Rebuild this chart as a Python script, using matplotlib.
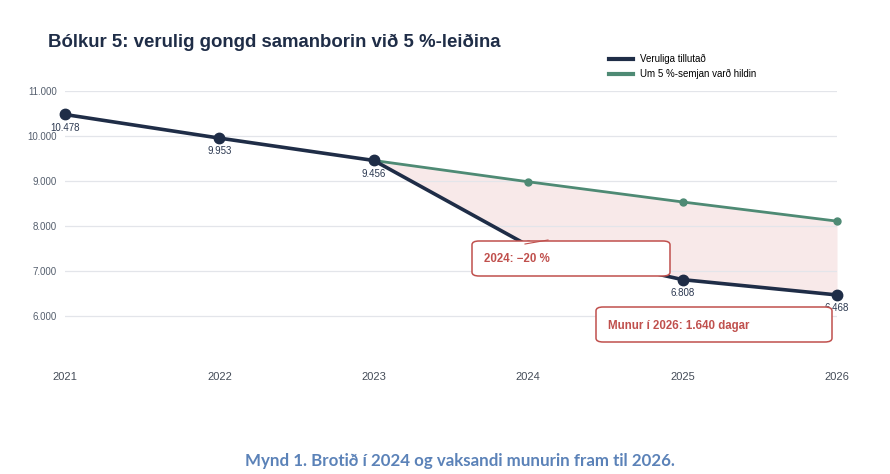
import matplotlib.pyplot as plt
from matplotlib.patches import FancyBboxPatch

plt.rcParams["font.family"] = ["Liberation Sans", "DejaVu Sans"]

years = [2021, 2022, 2023, 2024, 2025, 2026]
actual = [10478, 9953, 9456, 7565, 6808, 6468]
path_years = [2023, 2024, 2025, 2026]
path_5pct = [9456, 8983, 8534, 8108]
label_years = [2021, 2022, 2023, 2025, 2026]
yticks = [6000, 7000, 8000, 9000, 10000, 11000]

navy = "#1f2d47"
green = "#4e8a74"
red = "#c0504d"

W, H = 890, 474
fig = plt.figure(figsize=(W / 100, H / 100), dpi=100, facecolor="white")
ax = fig.add_axes([65 / W, 1 - 361 / H, (837 - 65) / W, (361 - 91) / H])

ax.set_xlim(2021, 2026)
ax.set_ylim(5000, 11000)

fill_low = [actual[years.index(y)] for y in path_years]
ax.fill_between(path_years, fill_low, path_5pct, color="#f8e9e9", zorder=1, lw=0)

ax.plot(path_years, path_5pct, color=green, lw=2, marker="o", ms=5, zorder=3,
        clip_on=False, label="Um 5 %-semjan varð hildin")
ax.plot(years, actual, color=navy, lw=2.6, marker="o", ms=7.5, zorder=4,
        clip_on=False, label="Veruliga tillutað")

for y in label_years:
    v = actual[years.index(y)]
    ax.annotate(f"{v:,}".replace(",", "."), (y, v), xytext=(0, -6),
                textcoords="offset points", ha="center", va="top",
                fontsize=7, color="#2b3850", zorder=2)

ax.set_yticks(yticks)
ax.set_yticklabels([f"{v:,}".replace(",", ".") for v in yticks])
ax.set_xticks(years)
ax.tick_params(axis="y", length=0, pad=6, labelsize=7, labelcolor="#555f6e")
ax.tick_params(axis="x", length=0, pad=8, labelsize=8, labelcolor="#444c58")
ax.grid(axis="y", color="#e3e5ea", lw=0.9)
for s in ax.spines.values():
    s.set_visible(False)

# annotation boxes (pixel coordinates of the figure)
def box(x0, y0, x1, y1, text):
    p = FancyBboxPatch((x0 / W, 1 - y1 / H), (x1 - x0) / W, (y1 - y0) / H,
                       boxstyle="round,pad=0,rounding_size=0.008",
                       transform=fig.transFigure, facecolor="white",
                       edgecolor=red, lw=1.1, zorder=10)
    fig.patches.append(p)
    fig.text((x0 + 12) / W, 1 - ((y0 + y1) / 2 + 1) / H, text, color=red,
             fontsize=8.3, fontweight="bold", va="center", ha="left", zorder=11)

box(472, 241, 670, 276, "2024: \u221220 %")
fig.add_artist(plt.Line2D([525 / W, 548 / W], [1 - 244 / H, 1 - 240 / H],
                          color=red, lw=0.8, zorder=12))
box(596, 307, 832, 342, "Munur í 2026: 1.640 dagar")

fig.text(48 / W, 1 - 42 / H, "Bólkur 5: verulig gongd samanborin við 5 %-leiðina",
         fontsize=13.4, fontweight="bold", color="#1f2d47", va="center", ha="left")

h, l = ax.get_legend_handles_labels()
leg = fig.legend(h[::-1], l[::-1], loc="upper left", bbox_to_anchor=(600 / W, 1 - 45 / H),
                 frameon=False, fontsize=7, handlelength=2.5, handletextpad=0.7,
                 labelspacing=0.5)
for line in leg.get_lines():
    line.set_marker("")
    line.set_linewidth(3)

fig.text(459.5 / W, 1 - 461 / H, "Mynd 1. Brotið í 2024 og vaksandi munurin fram til 2026.",
         fontsize=12.2, fontweight="bold", color="#5b82b8", ha="center", va="center",
         family=["Lato", "DejaVu Sans"])

fig.savefig("out.png", dpi=100, facecolor="white")
